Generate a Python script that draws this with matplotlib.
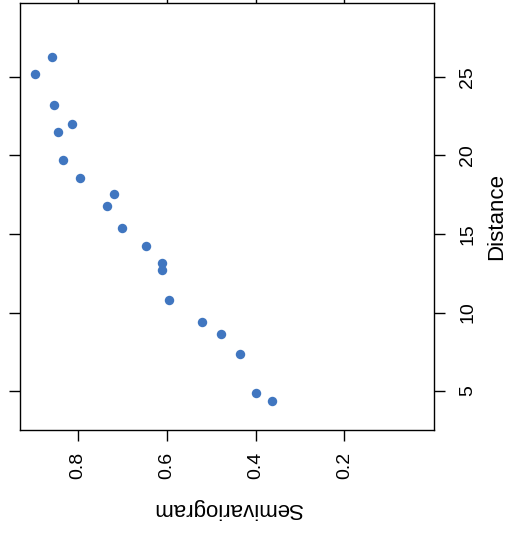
import matplotlib
matplotlib.use("Agg")
import matplotlib.pyplot as plt

# Empirical semivariogram: lag distance vs semivariance
distance = [26.25, 25.21, 23.24, 22.03, 21.52, 19.73, 18.55, 17.57, 16.80,
            15.40, 14.25, 13.13, 12.73, 10.82, 9.41, 8.65, 7.38, 4.89, 4.34]
semivariogram = [0.858, 0.897, 0.855, 0.813, 0.846, 0.835, 0.796, 0.720, 0.734,
                 0.700, 0.647, 0.611, 0.611, 0.595, 0.521, 0.478, 0.436, 0.400, 0.364]

semi_ticks = [0.8, 0.6, 0.4, 0.2]
dist_ticks = [5, 10, 15, 20, 25]

plt.rcParams["font.family"] = ["Liberation Sans", "DejaVu Sans"]

W, H = 513, 536
fig = plt.figure(figsize=(W / 100, H / 100), dpi=100)
ax = fig.add_axes([19.5 / W, (H - 430) / H, (434 - 19.5) / W, 427 / H])

ax.plot(semivariogram, distance, "o", color="#4076c0", markersize=6.8,
        markeredgewidth=0, clip_on=False)

ax.set_xlim(0.932, -0.002)
ax.set_ylim(2.52, 29.71)

for s in ax.spines.values():
    s.set_linewidth(1.0)
    s.set_color("black")

ax.set_xticks(semi_ticks)
ax.set_xticklabels([f"{v:.1f}" for v in semi_ticks], rotation=90, fontsize=14)
ax.set_yticks(dist_ticks)
ax.set_yticklabels([str(v) for v in dist_ticks], rotation=90, fontsize=14,
                   va="center")
ax.tick_params(axis="both", direction="out", length=8, width=1.0,
               top=True, bottom=True, left=True, right=True,
               labelleft=False, labelright=True, labeltop=False, labelbottom=True)
ax.tick_params(axis="x", pad=7.5)
ax.tick_params(axis="y", pad=10)

ax.set_xlabel("Semivariogram", fontsize=16, rotation=180, va="center", ha="center")
ax.xaxis.set_label_coords(0.5, (430 - 508) / 427)
ax.yaxis.set_label_position("right")
ax.set_ylabel("Distance", fontsize=16, rotation=90, va="center", ha="center")
ax.yaxis.set_label_coords((497 - 19.5) / 414.5, 0.5)

fig.savefig("out.png", dpi=100)
